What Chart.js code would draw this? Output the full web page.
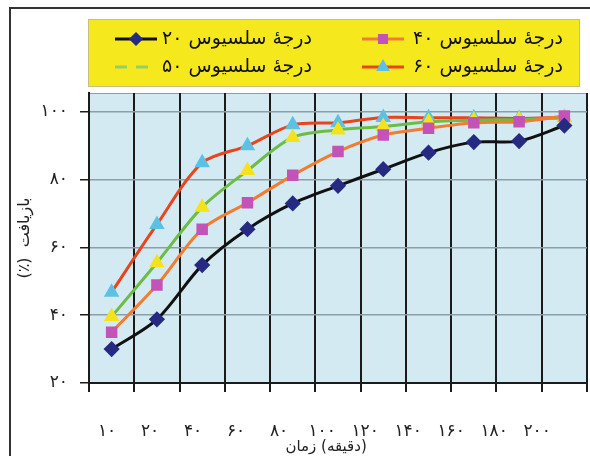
<!DOCTYPE html>
<html lang="fa">
<head>
<meta charset="UTF-8">
<title>بازیافت - زمان</title>
<script src="https://cdn.jsdelivr.net/npm/chart.js"></script>
<style>
    body { margin: 0; overflow: hidden; background: #fff; }
    #wrap { position: relative; width: 590px; height: 456px; overflow: hidden; }
    #frame { position: absolute; left: 9px; top: 7px; width: 640px; height: 520px; border: 2px solid #333; pointer-events: none; }
</style>
</head>
<body>
<div id="wrap">
    <canvas id="recovery" width="590" height="456"></canvas>
    <div id="frame"></div>
</div>
<script>
// زمان (دقیقه)
const times = [10, 20, 40, 60, 80, 100, 120, 140, 160, 180, 200];
// بازیافت (%) برای هر دما
const temp20 = [30.0, 38.8, 54.8, 65.4, 73.0, 78.2, 83.1, 88.0, 91.1, 91.4, 96.0];
const temp40 = [35.0, 48.9, 65.4, 73.2, 81.3, 88.3, 93.2, 95.2, 96.8, 97.1, 98.8];
const temp50 = [39.6, 55.5, 71.9, 82.7, 92.5, 94.7, 95.7, 97.1, 97.6, 97.8, 98.3];
const temp60 = [46.8, 66.8, 85.0, 90.0, 96.2, 96.8, 98.4, 98.3, 98.3, 98.1, 98.4];
const seriesNames = ['درجهٔ سلسیوس ۲۰', 'درجهٔ سلسیوس ۴۰', 'درجهٔ سلسیوس ۵۰', 'درجهٔ سلسیوس ۶۰'];

const faDigits = v => String(v).replace(/\d/g, d => '۰۱۲۳۴۵۶۷۸۹'[d]);

Chart.defaults.font.family = "'DejaVu Sans', sans-serif";
Chart.defaults.color = '#222';

// light blue plot background
const plotBg = {
    id: 'plotBg',
    beforeDraw(chart) {
        const {ctx, chartArea: a} = chart;
        ctx.save();
        ctx.fillStyle = '#d3eaf2';
        ctx.fillRect(a.left, a.top, a.right - a.left, a.bottom - a.top);
        ctx.strokeStyle = '#8d9ea6';
        ctx.lineWidth = 1;
        ctx.beginPath();
        ctx.moveTo(a.left, a.top + 0.5);
        ctx.lineTo(a.right, a.top + 0.5);
        ctx.stroke();
        ctx.restore();
    }
};

// yellow 2x2 legend box: [line start, text right edge, row centre]
const boxLegend = {
    id: 'boxLegend',
    afterDraw(chart) {
        const ctx = chart.ctx;
        ctx.save();
        ctx.fillStyle = '#f5e91e';
        ctx.fillRect(88, 19, 492, 68);
        ctx.strokeStyle = '#c8c07a';
        ctx.lineWidth = 1;
        ctx.strokeRect(88.5, 19.5, 491, 67);
        const cells = [[115, 312, 39], [362, 563, 39], [115, 312, 67], [362, 563, 67]];
        chart.data.datasets.forEach((ds, i) => {
            const [mx, tx, my] = cells[i];
            ctx.strokeStyle = ds.legendColor || ds.borderColor;
            ctx.lineWidth = 3;
            ctx.setLineDash(ds.legendDash || []);
            ctx.beginPath();
            ctx.moveTo(mx, my);
            ctx.lineTo(mx + 42, my);
            ctx.stroke();
            ctx.setLineDash([]);
            if (!ds.legendDash) {
                ctx.fillStyle = ds.pointBackgroundColor;
                ctx.strokeStyle = ds.pointBorderColor;
                Chart.helpers.drawPoint(ctx, {pointStyle: ds.pointStyle, radius: ds.pointRadius - 1, borderWidth: 1, rotation: 0}, mx + 21, my);
            }
            ctx.fillStyle = '#111';
            ctx.font = "19px 'DejaVu Sans'";
            ctx.direction = 'rtl';
            ctx.textAlign = 'right';
            ctx.textBaseline = 'middle';
            ctx.fillText(ds.label, tx, my);
        });
        ctx.restore();
    }
};

new Chart(document.getElementById('recovery'), {
    type: 'line',
    data: {
        labels: times,
        datasets: [
            {
                label: seriesNames[0], data: temp20,
                borderColor: '#111', borderWidth: 3,
                pointStyle: 'rectRot', pointRadius: 6,
                pointBackgroundColor: '#272a82', pointBorderColor: '#272a82'
            },
            {
                label: seriesNames[1], data: temp40,
                borderColor: '#f27c30', borderWidth: 3,
                pointStyle: 'rect', pointRadius: 6,
                pointBackgroundColor: '#c453b8', pointBorderColor: '#c453b8'
            },
            {
                label: seriesNames[2], data: temp50,
                borderColor: '#6cbd45', borderWidth: 3,
                pointStyle: 'triangle', pointRadius: 6,
                pointBackgroundColor: '#f4e21c', pointBorderColor: '#f4e21c',
                legendColor: '#8fd06a', legendDash: [12, 9]
            },
            {
                label: seriesNames[3], data: temp60,
                borderColor: '#e8451e', borderWidth: 3,
                pointStyle: 'triangle', pointRadius: 6,
                pointBackgroundColor: '#5cc1e2', pointBorderColor: '#5cc1e2'
            }
        ]
    },
    options: {
        responsive: false,
        animation: false,
        layout: { autoPadding: false, padding: { top: 93, right: 3, left: 0, bottom: 0 } },
        elements: { line: { tension: 0.3 } },
        plugins: {
            legend: { display: false },
            tooltip: { enabled: false }
        },
        scales: {
            x: {
                type: 'category',
                offset: true,
                grid: { offset: true, color: '#1b1b1b', lineWidth: 2, tickLength: 9 },
                border: { color: '#1b1b1b', width: 2 },
                ticks: { display: false }
            },
            // the tick labels in the source sit a little tighter than the data columns
            xLabels: {
                type: 'linear',
                position: 'bottom',
                min: -0.42,
                max: 11.16,
                grid: { display: false },
                border: { display: false },
                ticks: {
                    stepSize: 1,
                    includeBounds: false,
                    autoSkip: false,
                    maxRotation: 0,
                    padding: 21,
                    font: { size: 17 },
                    callback: v => (Number.isInteger(v) && v >= 0 && v < times.length) ? faDigits(times[v]) : ''
                },
                title: {
                    display: true,
                    text: 'زمان \u200E(دقیقه)\u200E\u00A0\u00A0\u00A0\u00A0\u00A0',
                    font: { size: 15 },
                    padding: { top: 0, bottom: 0 }
                },
                afterFit: s => { s.height = 64; s.paddingLeft = 0; s.paddingRight = 0; }
            },
            y: {
                min: 20,
                max: 105.6,
                grid: { color: '#8d9ea6', lineWidth: 1.5, tickColor: '#1b1b1b', tickLength: 9 },
                border: { color: '#1b1b1b', width: 2 },
                ticks: {
                    stepSize: 20,
                    includeBounds: false,
                    padding: 12,
                    font: { size: 17 },
                    callback: v => faDigits(v)
                },
                title: {
                    display: true,
                    text: '\u202Bبازیافت\u00A0\u00A0(٪)\u202C',
                    font: { size: 16 },
                    padding: { top: 15, bottom: 0 }
                },
                afterFit: s => { s.width = 89; }
            }
        }
    },
    plugins: [plotBg, boxLegend]
});
</script>
</body>
</html>
